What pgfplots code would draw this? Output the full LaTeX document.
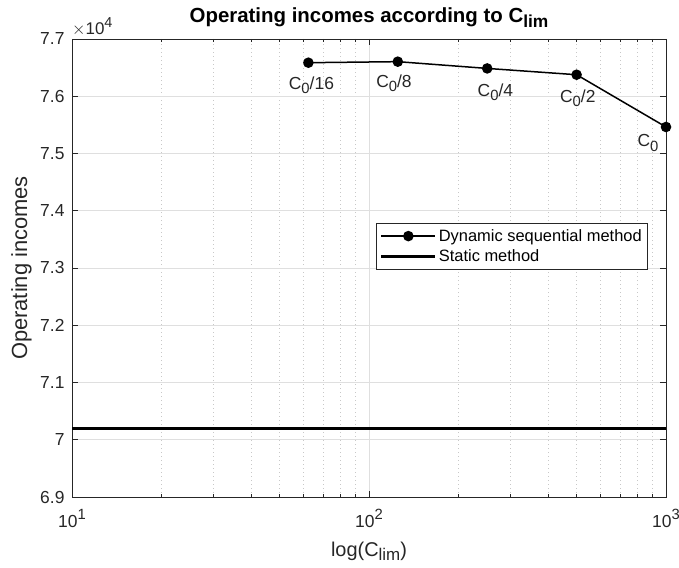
\documentclass[border=0pt]{standalone}
\usepackage{fontspec}
\setmainfont{Liberation Sans}
\usepackage{graphicx}
\usepackage{pgfplots}
\pgfplotsset{compat=1.18}
\definecolor{axgray}{RGB}{38,38,38}
\definecolor{gridgray}{RGB}{223,223,223}
\definecolor{minorgray}{RGB}{200,200,200}
\newcommand{\sub}[1]{\raisebox{-0.45ex}{\scalebox{0.85}{#1}}}
\newcommand{\sups}[1]{\raisebox{0.8ex}{\scalebox{0.85}{#1}}}

\begin{document}
\begin{tikzpicture}
\useasboundingbox (-72bp,-71bp) rectangle (607bp,497bp);
\begin{axis}[
  at={(0,0)}, anchor=south west,
  scale only axis, width=594bp, height=458bp,
  xmode=log, xmin=10, xmax=1000, ymin=69000, ymax=77000,
  xtick={10,100,1000},
  xticklabels={10\sups{1},10\sups{2},10\sups{3}},
  minor xtick={20,30,40,50,60,70,80,90,200,300,400,500,600,700,800,900},
  ytick={69000,70000,71000,72000,73000,74000,75000,76000,77000},
  yticklabels={6.9,7,7.1,7.2,7.3,7.4,7.5,7.6,7.7},
  scaled y ticks=false,
  xmajorgrids, ymajorgrids, xminorgrids,
  major grid style={solid, gridgray, line width=0.6bp},
  minor grid style={minorgray, line width=0.6bp, dash pattern=on 1bp off 3bp},
  tick align=inside,
  major tick length=6bp, minor tick length=3bp,
  axis line style={axgray, line width=0.7bp},
  every tick/.style={axgray, line width=0.6bp},
  tick label style={font=\fontsize{17.5}{20}\selectfont, text=axgray},
  xticklabel style={anchor=base, yshift=-30bp},
  yticklabel style={anchor=east, xshift=-4bp},
  every axis title shift=0pt,
  title={Operating incomes according to C\sub{lim}},
  title style={font=\bfseries\fontsize{20.5}{24}\selectfont, at={(axis description cs:0.5,1)}, anchor=base, yshift=16bp},
  xlabel={log(C\sub{lim})},
  ylabel={Operating incomes},
  xlabel style={font=\fontsize{20}{24}\selectfont, text=axgray, at={(axis description cs:0.5,0)}, anchor=base, yshift=-59bp},
  ylabel style={font=\fontsize{22}{26}\selectfont, text=axgray, at={(axis description cs:0,0.5)}, anchor=base, yshift=45bp},
  legend style={at={(axis description cs:0.9697,0.598)}, anchor=north east,
    font=\fontsize{16.5}{19}\selectfont, draw=axgray, line width=0.6bp,
    inner xsep=4bp, inner ysep=4bp, row sep=3bp},
  legend cell align=left,
  legend image code/.code={\draw[mark repeat=2,mark phase=2,#1] plot coordinates {(0bp,0bp) (27bp,0bp) (54bp,0bp)};},
  clip=false,
]
\addplot[black, line width=1.5bp, mark=*, mark size=4.5bp, mark options={solid, fill=black}]
  coordinates {(62.5,76586) (125,76604) (250,76486) (500,76376) (1000,75463)};
\addlegendentry{Dynamic sequential method}
\addplot[black, line width=3bp, no marks]
  coordinates {(10,70188) (1000,70188)};
\addlegendentry{Static method}

\node[anchor=base west, font=\fontsize{17.5}{20}\selectfont, text=axgray, xshift=-23bp, yshift=-27bp] at (axis cs:62.5,76586) {C\sub{0}/16};
\node[anchor=base west, font=\fontsize{17.5}{20}\selectfont, text=axgray, xshift=-25bp, yshift=-26bp] at (axis cs:125,76604) {C\sub{0}/8};
\node[anchor=base west, font=\fontsize{17.5}{20}\selectfont, text=axgray, xshift=-13bp, yshift=-28bp] at (axis cs:250,76486) {C\sub{0}/4};
\node[anchor=base west, font=\fontsize{17.5}{20}\selectfont, text=axgray, xshift=-20bp, yshift=-28bp] at (axis cs:500,76376) {C\sub{0}/2};
\node[anchor=base west, font=\fontsize{17.5}{20}\selectfont, text=axgray, xshift=-32bp, yshift=-20bp] at (axis cs:1000,75463) {C\sub{0}};
\node[anchor=base west, font=\fontsize{17}{20}\selectfont, text=axgray, inner sep=0pt, yshift=4bp] at (rel axis cs:0,1) {$\times$10\sups{4}};
\end{axis}
\end{tikzpicture}
\end{document}
